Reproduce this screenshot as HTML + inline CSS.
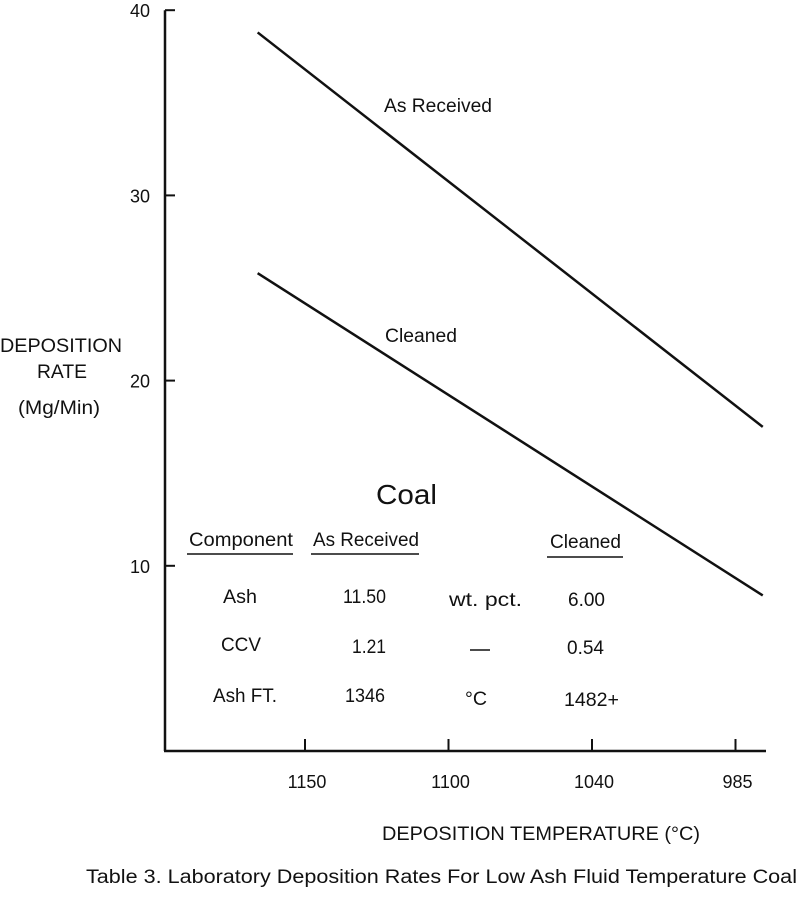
<!DOCTYPE html>
<html><head><meta charset="utf-8"><style>
html,body{margin:0;padding:0;background:#fff;}
svg{display:block;font-family:"Liberation Sans",sans-serif;}
</style></head><body>
<svg id="chart" width="800" height="922" viewBox="0 0 800 922">
<g id="axes"></g>
<g id="series"></g>
<g font-size="19" fill="#111" lengthAdjust="spacingAndGlyphs">
<text x="0" y="352" textLength="122" lengthAdjust="spacingAndGlyphs">DEPOSITION</text>
<text x="37" y="378" textLength="50" lengthAdjust="spacingAndGlyphs">RATE</text>
<text x="18" y="414" textLength="82" lengthAdjust="spacingAndGlyphs">(Mg/Min)</text></g>
<text x="382" y="840" font-size="19" fill="#111" textLength="318" lengthAdjust="spacingAndGlyphs">DEPOSITION TEMPERATURE (°C)</text>
<text x="384" y="112" font-size="19" fill="#111" textLength="108" lengthAdjust="spacingAndGlyphs">As Received</text>
<text x="385" y="342" font-size="19" fill="#111" textLength="72" lengthAdjust="spacingAndGlyphs">Cleaned</text>
<g font-size="19" fill="#111">
<text x="376" y="504" font-size="28" textLength="61" lengthAdjust="spacingAndGlyphs">Coal</text>
<text x="189" y="546" textLength="104" lengthAdjust="spacingAndGlyphs">Component</text><line x1="187" y1="554" x2="293" y2="554" stroke="#111" stroke-width="1.5"/>
<text x="313" y="546" textLength="106" lengthAdjust="spacingAndGlyphs">As Received</text><line x1="311" y1="554" x2="419" y2="554" stroke="#111" stroke-width="1.5"/>
<text x="550" y="548" textLength="71" lengthAdjust="spacingAndGlyphs">Cleaned</text><line x1="547" y1="557" x2="623" y2="557" stroke="#111" stroke-width="1.5"/>
<text x="223" y="603" textLength="34" lengthAdjust="spacingAndGlyphs">Ash</text>
<text x="343" y="603" textLength="43" lengthAdjust="spacingAndGlyphs">11.50</text>
<text x="449" y="606" textLength="73" lengthAdjust="spacingAndGlyphs">wt. pct.</text>
<text x="568" y="606" textLength="37" lengthAdjust="spacingAndGlyphs">6.00</text>
<text x="221" y="651" textLength="40" lengthAdjust="spacingAndGlyphs">CCV</text>
<text x="352" y="653" textLength="34" lengthAdjust="spacingAndGlyphs">1.21</text>
<line x1="470" y1="650" x2="490" y2="650" stroke="#111" stroke-width="1.5"/>
<text x="567" y="654" textLength="37" lengthAdjust="spacingAndGlyphs">0.54</text>
<text x="213" y="702" textLength="64" lengthAdjust="spacingAndGlyphs">Ash FT.</text>
<text x="345" y="702" textLength="40" lengthAdjust="spacingAndGlyphs">1346</text>
<text x="465" y="705" textLength="22" lengthAdjust="spacingAndGlyphs">°C</text>
<text x="564" y="706" textLength="55" lengthAdjust="spacingAndGlyphs">1482+</text>
</g>
<text x="86" y="883" font-size="19" fill="#111" textLength="711" lengthAdjust="spacingAndGlyphs">Table 3. Laboratory Deposition Rates For Low Ash Fluid Temperature Coal</text>
</svg>
<script>
const xTickLabels = ["1150","1100","1040","985"];
const yTicks = [10,20,30,40];
const lineX = [-0.33, 3.19];
const asReceived = [38.8, 17.5];
const cleaned = [25.8, 8.4];
const NS="http://www.w3.org/2000/svg";
function xs(i){return 305+143.5*i;}
function ys(v){return 751-18.52*v;}
function mk(tag,attrs,parent,text){const e=document.createElementNS(NS,tag);for(const k in attrs)e.setAttribute(k,attrs[k]);if(text!==undefined)e.textContent=text;parent.appendChild(e);return e;}
const axes=document.getElementById('axes'), series=document.getElementById('series');
let a=mk('line',{x1:165,y1:ys(40),x2:165,y2:751,stroke:'#111','stroke-width':2.5},axes);


a=mk('line',{x1:164,y1:751,x2:766,y2:751,stroke:'#111','stroke-width':2.5},axes);


yTicks.forEach(v=>{
  const t=mk('line',{x1:165,y1:ys(v),x2:175,y2:ys(v),stroke:'#111','stroke-width':2},axes);
  
  
  const l=mk('text',{x:150,y:ys(v)+7,'font-size':18,'text-anchor':'end',fill:'#111'},axes,String(v));
  
  
});
xTickLabels.forEach((s,i)=>{
  const t=mk('line',{x1:xs(i),y1:739,x2:xs(i),y2:751,stroke:'#111','stroke-width':2},axes);
  
  
  const l=mk('text',{x:xs(i)+2,y:788,'font-size':18,'text-anchor':'middle',fill:'#111'},axes,s);
  
  
});
function drawLine(vals,name){
  const p=mk('polyline',{points:lineX.map((x,i)=>xs(x)+','+ys(vals[i])).join(' '),fill:'none',stroke:'#111','stroke-width':2.5},series);
  
  
}
drawLine(asReceived,'line-as-received');
drawLine(cleaned,'line-cleaned');
</script>
</body></html>
